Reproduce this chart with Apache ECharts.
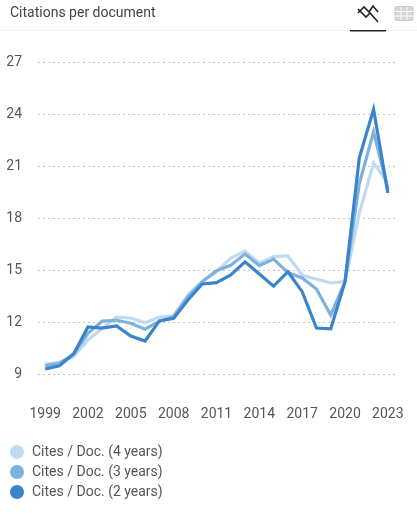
<!DOCTYPE html>
<html>
<head>
<meta charset="utf-8">
<style>html,body{margin:0;padding:0;background:#fff}#c{width:417px;height:515px}</style>
<script src="https://cdn.jsdelivr.net/npm/echarts@6/dist/echarts.min.js"></script>
</head>
<body>
<div id="c"></div>
<script>
var years = ['1999','2000','2001','2002','2003','2004','2005','2006','2007','2008','2009','2010','2011','2012','2013','2014','2015','2016','2017','2018','2019','2020','2021','2022','2023'];
var cites4 = [9.6,9.7,10.03,10.99,11.67,12.31,12.26,11.99,12.31,12.39,13.59,14.36,14.93,15.72,16.12,15.42,15.8,15.84,14.74,14.5,14.28,14.36,18.3,21.2,20.05];
var cites3 = [9.5,9.65,10.18,11.38,12.08,12.13,11.96,11.61,12.08,12.33,13.49,14.36,14.99,15.3,15.95,15.28,15.66,14.88,14.57,13.93,12.43,14.36,20.0,23.0,19.7];
var cites2 = [9.32,9.5,10.2,11.74,11.68,11.8,11.22,10.93,12.09,12.24,13.3,14.22,14.3,14.74,15.5,14.8,14.1,14.93,13.78,11.68,11.64,14.36,21.5,24.3,19.47];
var names = ['Cites / Doc. (4 years)','Cites / Doc. (3 years)','Cites / Doc. (2 years)'];
var colors = ['#bfdaf2','#7db2e0','#3a85c9'];
var seriesValues = [cites4,cites3,cites2];
var chart = echarts.init(document.getElementById('c'),null,{renderer:'canvas'});
var iconLine='#222';
chart.setOption({
  animation:false,
  textStyle:{fontFamily:'Roboto'},
  title:{text:'Citations per document',left:5,top:-1,textStyle:{fontFamily:'Roboto',fontSize:14,fontWeight:400,color:'#444',lineHeight:18}},
  grid:{left:38,right:22,top:62.5,bottom:140.5,containLabel:false,outerBoundsMode:'none'},
  xAxis:{type:'category',data:years,boundaryGap:true,
    axisLine:{show:false},axisTick:{show:false},
    axisLabel:{interval:2,margin:33,fontSize:14,color:'#555',fontFamily:'Roboto',hideOverlap:false},
    splitLine:{show:false}},
  yAxis:{type:'value',min:9,max:27,interval:3,
    axisLine:{show:false},axisTick:{show:false},
    axisLabel:{margin:16,fontSize:14,color:'#555',fontFamily:'Roboto'},
    splitLine:{lineStyle:{type:[2,3],color:'#c4c4c4',width:1}}},
  legend:{orient:'vertical',left:5,top:440,itemWidth:14,itemHeight:14,itemGap:6,icon:'circle',
    data:names,selectedMode:false,
    textStyle:{fontFamily:'Roboto',fontSize:14,color:'#555',padding:[0,0,0,3]}},
  series:names.map(function(n,i){return {name:n,type:'line',data:seriesValues[i],
    symbol:'none',smooth:false,color:colors[i],lineStyle:{width:3.2,color:colors[i],join:'miter'},
    itemStyle:{color:colors[i]},z:2+i};}),
  graphic:[
    {type:'rect',shape:{x:0,y:30,width:417,height:1},style:{fill:'#f3f3f3'},silent:true},
    {type:'rect',shape:{x:350,y:30,width:36,height:1.5},style:{fill:'#222'},silent:true},
    {type:'polyline',shape:{points:[[358,9],[366,17],[370,13],[378,22]]},style:{stroke:iconLine,lineWidth:1.6,fill:'none'},silent:true},
    {type:'polyline',shape:{points:[[358,13],[364,7],[369,12],[373,6],[378,12]]},style:{stroke:iconLine,lineWidth:1.6,fill:'none'},silent:true},
    {type:'rect',shape:{x:395,y:6.5,width:18,height:14,r:1.5},style:{fill:'#d6d6d6',stroke:'#c8c8c8',lineWidth:1},silent:true},
    {type:'polyline',shape:{points:[[395,11.5],[413,11.5]]},style:{stroke:'#fff',lineWidth:1},silent:true},
    {type:'polyline',shape:{points:[[395,16],[413,16]]},style:{stroke:'#fff',lineWidth:1},silent:true},
    {type:'polyline',shape:{points:[[401,7],[401,20]]},style:{stroke:'#fff',lineWidth:1},silent:true},
    {type:'polyline',shape:{points:[[407,7],[407,20]]},style:{stroke:'#fff',lineWidth:1},silent:true}
  ]
});
</script>
</body>
</html>
